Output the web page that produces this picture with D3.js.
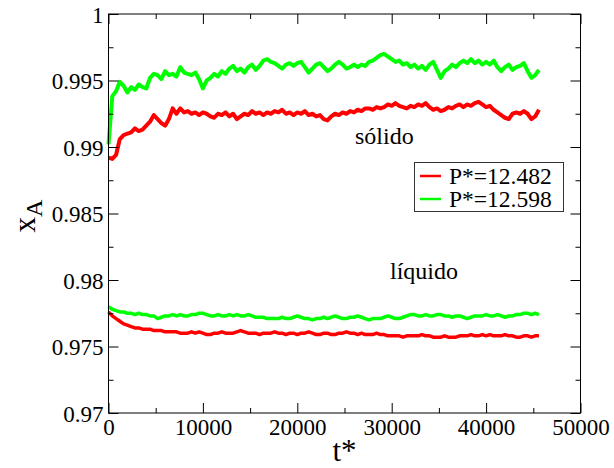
<!DOCTYPE html>
<html><head><meta charset="utf-8">
<script src="https://cdn.jsdelivr.net/npm/d3@7"></script>
<style>body{margin:0;background:#fff}svg{display:block}</style>
</head><body>
<svg id="c" width="614" height="468"></svg>
<script>
// time step between samples (t*)
const T_STEP = 400;
const xTicks = [0, 10000, 20000, 30000, 40000, 50000];
const yTicks = [0.97, 0.975, 0.98, 0.985, 0.99, 0.995, 1];
const xTickLabels = ["0", "10000", "20000", "30000", "40000", "50000"];
const yTickLabels = ["0.97", "0.975", "0.98", "0.985", "0.99", "0.995", "1"];
const legendLabels = ["P*=12.482", "P*=12.598"];
const seriesColors = ["#ff0000", "#00ff00"];

// P*=12.598, solid branch
const greenSolid = [
0.9902,0.9938,0.9942,0.9949,0.9946,0.9941,0.9945,0.9943,0.9947,0.9945,
0.9944,0.9952,0.9955,0.9954,0.9951,0.9957,0.9954,0.9955,0.9953,0.9960,
0.9956,0.9955,0.9954,0.9956,0.9951,0.9944,0.9950,0.9952,0.9955,0.9953,
0.9957,0.9955,0.9959,0.9961,0.9957,0.9959,0.9956,0.9960,0.9962,0.9958,
0.9961,0.9965,0.9966,0.9964,0.9963,0.9961,0.9959,0.9962,0.9963,0.9961,
0.9963,0.9964,0.9960,0.9956,0.9959,0.9962,0.9963,0.9960,0.9957,0.9959,
0.9962,0.9964,0.9962,0.9959,0.9960,0.9962,0.9960,0.9962,0.9961,0.9964,
0.9965,0.9967,0.9969,0.9970,0.9968,0.9966,0.9964,0.9965,0.9962,0.9963,
0.9960,0.9962,0.9959,0.9961,0.9958,0.9962,0.9964,0.9958,0.9952,0.9957,
0.9959,0.9962,0.9960,0.9963,0.9965,0.9963,0.9966,0.9963,0.9965,0.9962,
0.9964,0.9962,0.9965,0.9960,0.9957,0.9960,0.9962,0.9958,0.9960,0.9961,
0.9963,0.9957,0.9952,0.9954,0.9958];

// P*=12.482, solid branch
const redSolid = [
0.9892,0.9891,0.9894,0.9906,0.9909,0.9910,0.9911,0.9914,0.9912,0.9913,
0.9916,0.9919,0.9924,0.9921,0.9918,0.9916,0.9921,0.9929,0.9925,0.9929,
0.9926,0.9927,0.9925,0.9926,0.9924,0.9926,0.9925,0.9923,0.9922,0.9925,
0.9924,0.9926,0.9923,0.9925,0.9921,0.9923,0.9925,0.9924,0.9927,0.9925,
0.9926,0.9924,0.9926,0.9925,0.9927,0.9926,0.9928,0.9925,0.9926,0.9924,
0.9926,0.9925,0.9927,0.9924,0.9925,0.9923,0.9924,0.9921,0.9920,0.9923,
0.9925,0.9924,0.9926,0.9925,0.9927,0.9926,0.9928,0.9927,0.9929,0.9929,
0.9928,0.9930,0.9929,0.9930,0.9932,0.9931,0.9933,0.9931,0.9930,0.9929,
0.9931,0.9930,0.9932,0.9931,0.9933,0.9930,0.9928,0.9929,0.9927,0.9928,
0.9930,0.9929,0.9931,0.9932,0.9930,0.9932,0.9931,0.9933,0.9934,0.9932,
0.9930,0.9931,0.9928,0.9926,0.9924,0.9922,0.9921,0.9925,0.9926,0.9925,
0.9927,0.9925,0.9921,0.9923,0.9928];

// P*=12.598, liquid branch
const greenLiquid = [
0.9780,0.9778,0.9777,0.9776,0.9776,0.9775,0.9775,0.9774,0.9775,0.9774,
0.9774,0.9773,0.9773,0.9771,0.9772,0.9773,0.9773,0.9774,0.9773,0.9774,
0.9773,0.9773,0.9774,0.9774,0.9775,0.9775,0.9774,0.9773,0.9773,0.9774,
0.9773,0.9773,0.9774,0.9773,0.9774,0.9773,0.9773,0.9774,0.9773,0.9772,
0.9772,0.9772,0.9771,0.9771,0.9771,0.9771,0.9772,0.9771,0.9771,0.9772,
0.9773,0.9772,0.9771,0.9771,0.9770,0.9771,0.9771,0.9772,0.9771,0.9772,
0.9773,0.9772,0.9771,0.9771,0.9772,0.9772,0.9773,0.9772,0.9771,0.9770,
0.9771,0.9771,0.9771,0.9772,0.9773,0.9772,0.9771,0.9771,0.9772,0.9773,
0.9774,0.9774,0.9773,0.9773,0.9774,0.9773,0.9773,0.9774,0.9774,0.9773,
0.9773,0.9772,0.9773,0.9773,0.9772,0.9771,0.9772,0.9773,0.9773,0.9773,
0.9774,0.9773,0.9773,0.9774,0.9773,0.9772,0.9773,0.9773,0.9774,0.9774,
0.9775,0.9775,0.9774,0.9775,0.9774];

// P*=12.482, liquid branch
const redLiquid = [
0.9776,0.9773,0.9771,0.9769,0.9767,0.9766,0.9765,0.9764,0.9764,0.9763,
0.9763,0.9763,0.9762,0.9762,0.9762,0.9761,0.9761,0.9761,0.9761,0.9760,
0.9760,0.9760,0.9761,0.9760,0.9761,0.9760,0.9759,0.9759,0.9760,0.9760,
0.9761,0.9760,0.9760,0.9760,0.9761,0.9762,0.9761,0.9760,0.9760,0.9760,
0.9759,0.9760,0.9760,0.9760,0.9761,0.9760,0.9760,0.9759,0.9760,0.9760,
0.9759,0.9760,0.9760,0.9761,0.9760,0.9759,0.9759,0.9760,0.9760,0.9759,
0.9759,0.9760,0.9760,0.9761,0.9760,0.9760,0.9759,0.9760,0.9759,0.9759,
0.9759,0.9760,0.9759,0.9759,0.9758,0.9758,0.9758,0.9758,0.9757,0.9758,
0.9758,0.9758,0.9758,0.9759,0.9758,0.9758,0.9757,0.9757,0.9757,0.9758,
0.9757,0.9757,0.9757,0.9758,0.9758,0.9758,0.9759,0.9758,0.9758,0.9759,
0.9758,0.9759,0.9758,0.9758,0.9758,0.9759,0.9758,0.9758,0.9757,0.9757,
0.9758,0.9758,0.9757,0.9758,0.9758];

const FONT = "'Liberation Serif','Times New Roman',serif";
const svg = d3.select("#c");
const L = 108.5, R = 580.5, T = 14, B = 413;
const x = d3.scaleLinear().domain([0, 50000]).range([L, R]);
const y = d3.scaleLinear().domain([0.97, 1]).range([B, T]);

const series = [
  {vals: redLiquid, color: seriesColors[0], w: 3.5},
  {vals: greenLiquid, color: seriesColors[1], w: 3.5},
  {vals: redSolid, color: seriesColors[0], w: 4},
  {vals: greenSolid, color: seriesColors[1], w: 4}
];
const line = d3.line().x((d, i) => x(i * T_STEP)).y(d => y(d));
svg.append("g").selectAll("path").data(series).join("path")
  .attr("d", s => line(s.vals)).attr("fill", "none")
  .attr("stroke", s => s.color).attr("stroke-width", s => s.w).attr("stroke-linejoin", "round");

// axes: inward ticks on all sides
const xMinor = [5000, 15000, 25000, 35000, 45000];
const yMinor = [0.9725, 0.9775, 0.9825, 0.9875, 0.9925, 0.9975];
function styleAxis(g) {
  g.selectAll(".domain").remove();
  g.selectAll("line").attr("stroke", "#000").attr("stroke-width", 1);
}
const xb = svg.append("g").attr("transform", `translate(0,${B})`)
  .call(d3.axisBottom(x).tickValues(xTicks).tickSize(-10).tickFormat((d, i) => xTickLabels[i]));
styleAxis(xb);
xb.attr("font-family", FONT);
xb.selectAll("text").attr("font-family", FONT).attr("font-size", 23).attr("fill", "#000")
  .attr("y", 22).attr("dy", 0);
svg.append("g").attr("transform", `translate(0,${B})`)
  .call(d3.axisBottom(x).tickValues(xMinor).tickSize(-5).tickFormat("")).call(styleAxis);
svg.append("g").attr("transform", `translate(0,${T})`)
  .call(d3.axisTop(x).tickValues(xTicks).tickSize(-10).tickFormat("")).call(styleAxis);
svg.append("g").attr("transform", `translate(0,${T})`)
  .call(d3.axisTop(x).tickValues(xMinor).tickSize(-5).tickFormat("")).call(styleAxis);

const yl = svg.append("g").attr("transform", `translate(${L},0)`)
  .call(d3.axisLeft(y).tickValues(yTicks).tickSize(-10).tickFormat((d, i) => yTickLabels[i]));
styleAxis(yl);
yl.attr("font-family", FONT);
yl.selectAll("text").attr("font-family", FONT).attr("font-size", 23).attr("fill", "#000")
  .attr("x", -5).attr("dy", 8);
svg.append("g").attr("transform", `translate(${L},0)`)
  .call(d3.axisLeft(y).tickValues(yMinor).tickSize(-5).tickFormat("")).call(styleAxis);
svg.append("g").attr("transform", `translate(${R},0)`)
  .call(d3.axisRight(y).tickValues(yTicks).tickSize(-10).tickFormat("")).call(styleAxis);
svg.append("g").attr("transform", `translate(${R},0)`)
  .call(d3.axisRight(y).tickValues(yMinor).tickSize(-5).tickFormat("")).call(styleAxis);

svg.append("rect").attr("x", L).attr("y", T).attr("width", R - L).attr("height", B - T)
  .attr("fill", "none").attr("stroke", "#000").attr("stroke-width", 1);

// axis titles
svg.append("text").attr("x", (L + R) / 2).attr("y", 461).attr("text-anchor", "middle")
  .attr("font-family", FONT).attr("font-size", 31).text("t*");
const yt = svg.append("text").attr("transform", "translate(35,216) rotate(-90)")
  .attr("text-anchor", "middle").attr("font-family", FONT).attr("font-size", 31);
yt.append("tspan").text("x");
yt.append("tspan").attr("dy", 7).attr("font-size", 24).text("A");

// annotations
svg.append("text").attr("x", 355).attr("y", 144).attr("font-family", FONT).attr("font-size", 24).text("sólido");
svg.append("text").attr("x", 390).attr("y", 279).attr("font-family", FONT).attr("font-size", 24).text("líquido");

// legend
const lg = svg.append("g");
lg.append("rect").attr("x", 414.5).attr("y", 162.5).attr("width", 149).attr("height", 49)
  .attr("fill", "#fff").attr("stroke", "#333").attr("stroke-width", 1);
legendLabels.forEach((lab, i) => {
  const yy = 176 + i * 23;
  lg.append("line").attr("x1", 420).attr("x2", 441).attr("y1", yy).attr("y2", yy)
    .attr("stroke", seriesColors[i]).attr("stroke-width", 2.5);
  lg.append("text").attr("x", 449).attr("y", yy + 8).attr("font-family", FONT)
    .attr("font-size", 23.5).text(lab);
});
</script>
</body></html>
